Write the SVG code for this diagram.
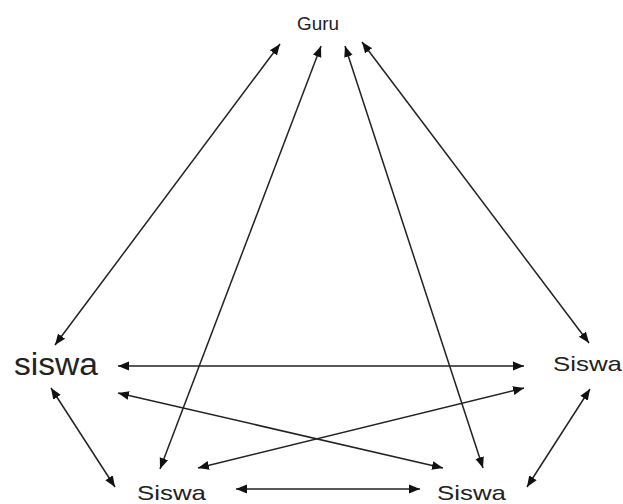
<svg xmlns="http://www.w3.org/2000/svg" width="623" height="504" viewBox="0 0 623 504">
<defs>
<marker id="ah" viewBox="0 0 10 10" refX="10" refY="5" markerWidth="11" markerHeight="11" markerUnits="userSpaceOnUse" orient="auto-start-reverse">
<path d="M0,1 L10,5 L0,9 Z" fill="#111"/>
</marker>
<style>
.lbl{font-family:"Liberation Sans",Arial,sans-serif;fill:#222;}
.c{stroke:#222;stroke-width:1.5;fill:none;marker-start:url(#ah);marker-end:url(#ah);}
</style>
</defs>
<rect width="623" height="504" fill="#fff"/>
<g id="connectors">
<line class="c" x1="280" y1="44" x2="55" y2="345"/>
<line class="c" x1="321" y1="46" x2="160" y2="469"/>
<line class="c" x1="345" y1="46" x2="483" y2="468"/>
<line class="c" x1="362" y1="42" x2="589" y2="343"/>
<line class="c" x1="118" y1="366" x2="524" y2="366"/>
<line class="c" x1="118" y1="393" x2="443" y2="468"/>
<line class="c" x1="524" y1="388" x2="198" y2="468"/>
<line class="c" x1="51" y1="388" x2="115" y2="487"/>
<line class="c" x1="236" y1="489" x2="420" y2="489"/>
<line class="c" x1="590" y1="389" x2="527" y2="487"/>
</g>
<g id="guru"><text class="lbl" x="318" y="30" font-size="18" text-anchor="middle" textLength="42" lengthAdjust="spacingAndGlyphs">Guru</text></g>
<g id="siswa-left"><text class="lbl" x="14" y="375" font-size="31" textLength="84" lengthAdjust="spacingAndGlyphs">siswa</text></g>
<g id="siswa-right"><text class="lbl" x="553" y="371" font-size="21" textLength="69" lengthAdjust="spacingAndGlyphs">Siswa</text></g>
<g id="siswa-bottom-left"><text class="lbl" x="137" y="500" font-size="21" textLength="69" lengthAdjust="spacingAndGlyphs">Siswa</text></g>
<g id="siswa-bottom-right"><text class="lbl" x="437" y="500" font-size="21" textLength="69" lengthAdjust="spacingAndGlyphs">Siswa</text></g>
</svg>
